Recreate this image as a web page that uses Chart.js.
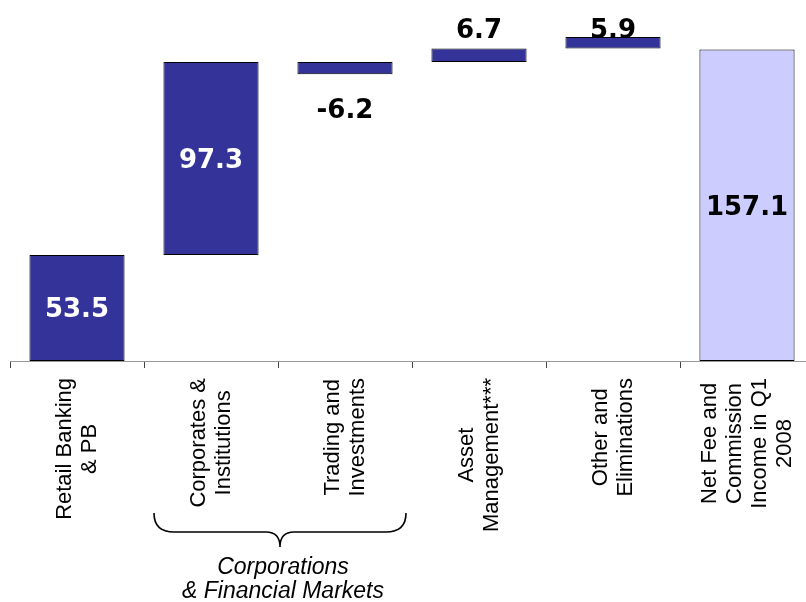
<!DOCTYPE html>
<html>
<head>
<meta charset="utf-8">
<script src="https://cdn.jsdelivr.net/npm/chart.js@4/dist/chart.umd.min.js"></script>
<style>
  html, body { margin: 0; padding: 0; background: #fff; overflow: hidden; }
  #wrap { width: 806px; height: 602px; overflow: hidden; position: relative; }
  canvas { display: block; }
</style>
</head>
<body>
<div id="wrap"><canvas id="c" width="824" height="602"></canvas></div>
<script>
// Net fee and commission income bridge, Q1 2008 (EUR m)
const categories = [
  ["Retail Banking", "& PB"],
  ["Corporates &", "Institutions"],
  ["Trading and", "Investments"],
  ["Asset", "Management***"],
  ["Other and", "Eliminations"],
  ["Net Fee and", "Commission", "Income in Q1", "2008"]
];
const values = [53.5, 97.3, -6.2, 6.7, 5.9, 157.1];
const barStarts = [0, 53.5, 150.8, 150.8, 157.5, 0];
const groupLabel = ["Corporations", "& Financial Markets"];
const groupSpan = [1, 2];

// floating [low, high] pairs for each bar
const floating = values.map((v, i) => {
  const a = barStarts[i], b = barStarts[i] + v;
  return [Math.min(a, b), Math.max(a, b)];
});

const DARK = '#333399';
const TOTAL = '#ccccff';
const barColors = values.map((v, i) => i === values.length - 1 ? TOTAL : DARK);

// where each value label sits relative to its bar
const labelStyle = [
  { place: 'inside', color: '#fff' },
  { place: 'inside', color: '#fff' },
  { place: 'below', dy: 44, color: '#000' },
  { place: 'above', dy: -11, color: '#000' },
  { place: 'above', dy: 1, color: '#000' },
  { place: 'inside', color: '#000' }
];

const valueLabels = {
  id: 'valueLabels',
  afterDatasetsDraw(chart) {
    const ctx = chart.ctx;
    const meta = chart.getDatasetMeta(0);
    const y = chart.scales.y;
    ctx.save();
    ctx.font = 'bold 26px "DejaVu Sans"';
    ctx.textAlign = 'center';
    ctx.textBaseline = 'alphabetic';
    meta.data.forEach((bar, i) => {
      const [lo, hi] = floating[i];
      const top = y.getPixelForValue(hi);
      const bottom = y.getPixelForValue(lo);
      const s = labelStyle[i];
      let ty;
      if (s.place === 'inside') ty = (top + bottom) / 2 + 9.5;
      else if (s.place === 'below') ty = bottom + s.dy;
      else ty = top + s.dy;
      ctx.fillStyle = s.color;
      ctx.fillText(values[i].toFixed(1), bar.x, ty);
    });
    ctx.restore();
  }
};

// rotated, centred multi-line category labels plus the group brace
const categoryLabels = {
  id: 'categoryLabels',
  afterDraw(chart) {
    const ctx = chart.ctx;
    const x = chart.scales.x;
    const topY = chart.chartArea.bottom + 17;
    const pitch = 25;
    ctx.save();
    ctx.font = '22px "Liberation Sans", Arial, sans-serif';
    ctx.fillStyle = '#000';
    ctx.textAlign = 'center';
    ctx.textBaseline = 'middle';
    categories.forEach((lines, i) => {
      const cx = x.getPixelForValue(i);
      const maxW = Math.max(...lines.map(l => ctx.measureText(l).width));
      ctx.save();
      ctx.translate(cx, topY);
      ctx.rotate(-Math.PI / 2);
      lines.forEach((l, k) => {
        ctx.fillText(l, -maxW / 2, (k - (lines.length - 1) / 2) * pitch);
      });
      ctx.restore();
    });

    // brace under the grouped categories
    const w = x.getPixelForValue(1) - x.getPixelForValue(0);
    const xl = x.getPixelForValue(groupSpan[0]) - w / 2 + 10;
    const xr = x.getPixelForValue(groupSpan[1]) + w / 2 - 6;
    const xm = (xl + xr) / 2;
    const y0 = 513, y1 = 532, y2 = 547;
    ctx.beginPath();
    ctx.moveTo(xl, y0);
    ctx.quadraticCurveTo(xl, y1, xl + 20, y1);
    ctx.lineTo(xm - 14, y1);
    ctx.quadraticCurveTo(xm, y1, xm, y2);
    ctx.quadraticCurveTo(xm, y1, xm + 14, y1);
    ctx.lineTo(xr - 20, y1);
    ctx.quadraticCurveTo(xr, y1, xr, y0);
    ctx.strokeStyle = '#000';
    ctx.lineWidth = 1.6;
    ctx.stroke();

    ctx.font = 'italic 23px "Liberation Sans", Arial, sans-serif';
    ctx.textBaseline = 'alphabetic';
    ctx.fillText(groupLabel[0], xm + 3, 574);
    ctx.fillText(groupLabel[1], xm + 3, 598);
    ctx.restore();
  }
};

new Chart(document.getElementById('c'), {
  type: 'bar',
  data: {
    labels: categories,
    datasets: [{
      data: floating,
      backgroundColor: barColors,
      borderColor: '#000',
      borderWidth: 1,
      borderSkipped: false,
      barPercentage: 0.71,
      categoryPercentage: 1
    }]
  },
  options: {
    responsive: false,
    animation: false,
    layout: { padding: { left: 10, right: 10, top: 0, bottom: 0 } },
    plugins: { legend: { display: false }, tooltip: { enabled: false } },
    scales: {
      x: {
        offset: true,
        grid: { offset: true, drawOnChartArea: false, drawTicks: true, tickLength: 7, color: '#444' },
        border: { display: true, color: '#999', width: 1 },
        ticks: { display: false },
        afterFit(scale) { scale.height = 241; }
      },
      y: {
        display: false,
        min: 0,
        max: 182
      }
    }
  },
  plugins: [valueLabels, categoryLabels]
});
</script>
</body>
</html>
